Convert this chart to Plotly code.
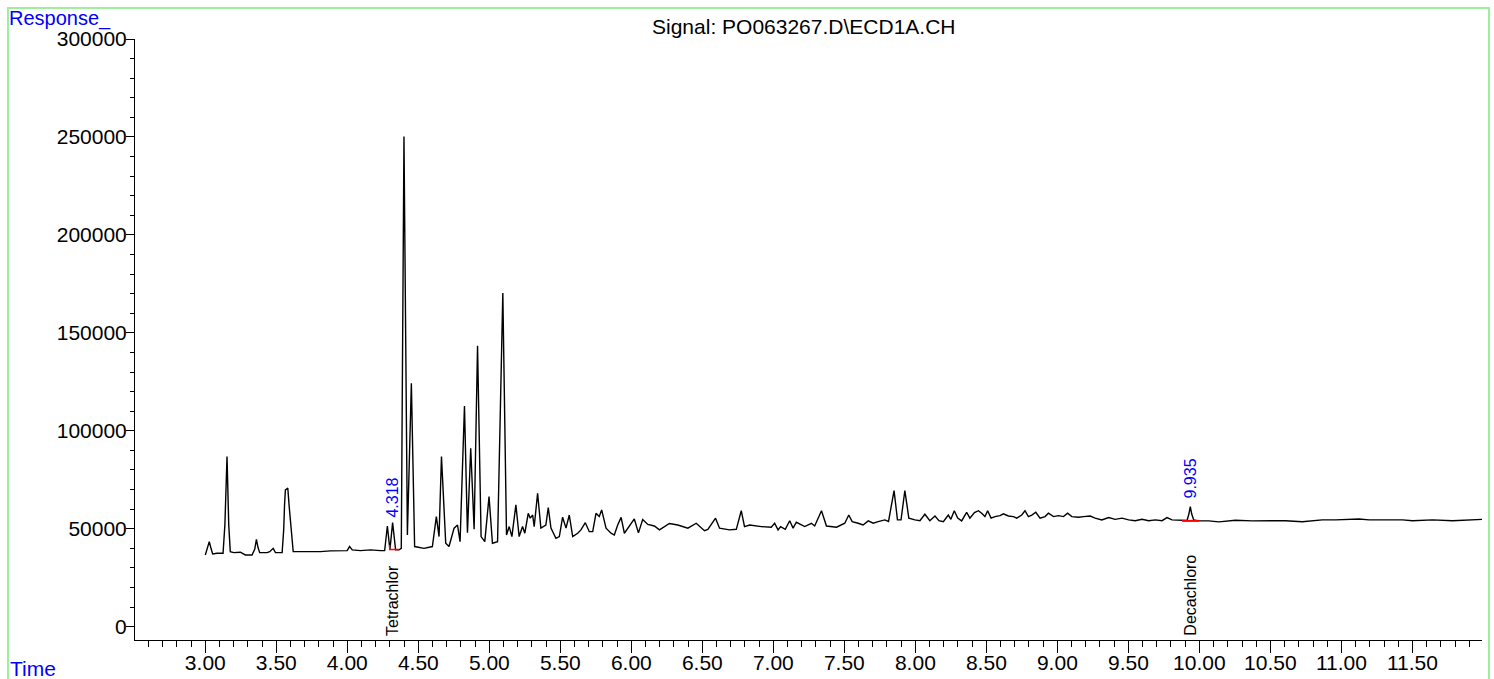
import plotly.graph_objects as go
import numpy as np

# ---------------- data ----------------
ret_time = [
    3.000, 3.014, 3.028, 3.040, 3.052, 3.083, 3.125, 3.138, 3.153, 3.165, 3.176, 3.200, 3.247, 3.282,
    3.329, 3.348, 3.360, 3.371, 3.383, 3.435, 3.454, 3.478, 3.494, 3.541, 3.552, 3.558, 3.564,
    3.572, 3.581, 3.590, 3.605, 3.619, 3.670, 3.741, 3.811, 3.882, 3.952, 3.999, 4.016,
    4.035, 4.093, 4.164, 4.234, 4.263, 4.282, 4.300, 4.319, 4.340, 4.364,
    4.380, 4.399, 4.423, 4.451, 4.474, 4.540, 4.599, 4.627, 4.646, 4.663,
    4.693, 4.716, 4.752, 4.776, 4.794, 4.825, 4.846, 4.869, 4.893, 4.917,
    4.942, 4.968, 4.998, 5.022, 5.058, 5.095, 5.121, 5.140, 5.159, 5.187,
    5.210, 5.234, 5.250, 5.274, 5.288, 5.305, 5.316, 5.340, 5.363, 5.398,
    5.415, 5.434, 5.469, 5.493, 5.516, 5.540, 5.563, 5.587, 5.622, 5.645,
    5.676, 5.704, 5.728, 5.751, 5.774, 5.791, 5.822, 5.857, 5.880, 5.904,
    5.928, 5.951, 5.986, 6.021, 6.050, 6.080, 6.116, 6.162, 6.198, 6.268,
    6.327, 6.398, 6.457, 6.515, 6.539, 6.593, 6.621, 6.691, 6.739, 6.774,
    6.797, 6.833, 6.915, 6.985, 7.009, 7.033, 7.051, 7.084, 7.115, 7.139,
    7.162, 7.221, 7.268, 7.291, 7.339, 7.374, 7.445, 7.503, 7.531, 7.555,
    7.597, 7.632, 7.668, 7.703, 7.738, 7.785, 7.811, 7.850, 7.874, 7.899,
    7.926, 7.954, 7.997, 8.032, 8.067, 8.102, 8.138, 8.166, 8.197, 8.232,
    8.250, 8.274, 8.298, 8.326, 8.361, 8.384, 8.416, 8.444, 8.467, 8.490,
    8.509, 8.533, 8.561, 8.596, 8.620, 8.655, 8.691, 8.714, 8.749, 8.772,
    8.796, 8.820, 8.848, 8.878, 8.913, 8.937, 8.973, 9.008, 9.043, 9.072,
    9.102, 9.149, 9.184, 9.231, 9.266, 9.313, 9.361, 9.407, 9.455, 9.502,
    9.548, 9.596, 9.643, 9.690, 9.737, 9.772, 9.807, 9.878, 9.913, 9.926, 9.936,
    9.946, 9.960, 9.996, 10.066, 10.137, 10.254, 10.372, 10.489, 10.607, 10.724, 10.865,
    10.959, 11.124, 11.195, 11.430, 11.501, 11.642, 11.783, 11.947, 11.990,
]
response = [
    36600, 40500, 43400, 40000, 37100, 37500, 37500, 52000, 86800, 52000, 38300, 37800, 38000, 36600,
    36600, 39500, 44600, 40500, 37800, 37800, 38300, 40000, 37800, 37800, 49400, 62000, 69800,
    70200, 70700, 62000, 47700, 38300, 38300, 38300, 38300, 38700, 38700, 38800, 40900,
    39200, 38800, 39200, 38800, 38800, 51400, 39200, 53100, 39200, 39200,
    40000, 250200, 46800, 124300, 40900, 40000, 40900, 56200, 46000, 86800,
    42600, 40900, 50300, 51900, 43400, 112700, 48000, 91100, 49700, 143400,
    46000, 43400, 66400, 42600, 43400, 170300, 46800, 51100, 46000, 62200,
    46000, 51100, 47700, 57900, 55400, 57000, 51100, 68100, 50300, 51900,
    60800, 50300, 45100, 46000, 55900, 50300, 57000, 46000, 47700, 49400,
    53100, 48500, 48500, 57900, 56200, 59600, 50300, 47700, 46800, 51900,
    55800, 47700, 51100, 55000, 47900, 54700, 52200, 51400, 49400, 52700,
    51900, 50300, 52800, 49000, 49700, 55400, 50300, 49400, 49700, 59200,
    51100, 51900, 51100, 50800, 52800, 49400, 51100, 49700, 54100, 50300,
    53300, 51100, 52800, 51400, 59200, 51400, 50800, 52800, 57000, 53600,
    52800, 51900, 54000, 52800, 53600, 54500, 53700, 69500, 54500, 54500,
    69500, 55400, 54500, 54100, 57400, 54100, 56500, 54100, 53600, 57000,
    54800, 59200, 55400, 54000, 58400, 55400, 58200, 59200, 57900, 56200,
    59200, 55400, 56200, 56700, 57600, 56500, 56200, 55400, 57000, 59200,
    56200, 57000, 58400, 55400, 56200, 57900, 56200, 56700, 56200, 57900,
    56200, 55900, 56200, 56500, 55400, 54500, 55700, 54800, 55400, 54500,
    54100, 54800, 54100, 54500, 54100, 55700, 54500, 54100, 54200, 57500, 61300,
    57500, 54500, 54000, 54000, 53500, 54300, 54000, 54100, 54100, 53600, 54500,
    54500, 55000, 54500, 54500, 54100, 54500, 54100, 54500, 54800,
]

# identified peaks
peak_times = [4.318, 9.935]
peak_labels = ["4.318", "9.935"]
peak_names = ["Tetrachlor", "Decachloro"]

# integration baselines (red)
base1_time = [4.298, 4.298, 4.364]
base1_resp = [41700, 39400, 39400]
base2_time = [9.878, 9.996]
base2_resp = [54000, 54000]

title_text = "Signal: PO063267.D\\ECD1A.CH"
y_title = "Response_"
x_title = "Time"

FONT = "Liberation Sans, Arial, sans-serif"
BLUE = "#0000ff"

fig = go.Figure()

fig.add_trace(go.Scatter(
    x=ret_time, y=response, mode="lines",
    line=dict(color="#000000", width=1.4), hoverinfo="x+y", showlegend=False,
))
fig.add_trace(go.Scatter(
    x=base1_time, y=base1_resp, mode="lines",
    line=dict(color="#ff0000", width=1.3), showlegend=False,
))
fig.add_trace(go.Scatter(
    x=base2_time, y=base2_resp, mode="lines",
    line=dict(color="#ff0000", width=2), showlegend=False,
))

apex = np.interp(peak_times, ret_time, response)
for t, lab, name, a, sh in zip(peak_times, peak_labels, peak_names, apex, [5, 7]):
    fig.add_annotation(x=t, y=max(a, np.interp(t + 0.003, ret_time, response)),
                       text=lab, textangle=-90, showarrow=False,
                       xanchor="center", yanchor="bottom", yshift=sh,
                       font=dict(family=FONT, size=16, color=BLUE))
    fig.add_annotation(x=t, y=0, yref="paper", text=name, textangle=-90,
                       showarrow=False, xanchor="center", yanchor="bottom",
                       yshift=2, font=dict(family=FONT, size=16, color="#000000"))

# header texts
fig.add_annotation(xref="paper", yref="paper", x=0.4963, y=1.020, text=title_text,
                   showarrow=False, xanchor="center", yanchor="middle",
                   font=dict(family=FONT, size=21, color="#000000"))
fig.add_annotation(xref="paper", yref="paper", x=-0.0950, y=1.034, text=y_title,
                   showarrow=False, xanchor="left", yanchor="middle",
                   font=dict(family=FONT, size=20, color=BLUE))
fig.add_annotation(xref="paper", yref="paper", x=-0.0945, y=-0.0466, text=x_title,
                   showarrow=False, xanchor="left", yanchor="middle",
                   font=dict(family=FONT, size=21, color=BLUE))

# green frame
fig.add_shape(type="rect", xref="paper", yref="paper",
              x0=-0.0943, x1=1.0052, y0=-0.2, y1=1.0516,
              line=dict(color="#9cf09c", width=2), fillcolor="rgba(0,0,0,0)",
              layer="below")

fig.update_layout(
    width=1494, height=679,
    margin=dict(l=135, r=12, t=39, b=39, autoexpand=False),
    paper_bgcolor="white", plot_bgcolor="white",
    font=dict(family=FONT, size=21, color="#000000"),
    showlegend=False,
)
fig.update_xaxes(
    range=[2.505, 11.99], showgrid=False, zeroline=False,
    showline=True, linecolor="#000000", linewidth=1,
    ticks="outside", ticklen=12, tickwidth=1, tickcolor="#000000",
    tick0=3, dtick=0.5, tickformat=".2f", ticklabelstandoff=-8,
    tickfont=dict(family=FONT, size=21, color="#000000"),
    minor=dict(ticks="outside", ticklen=6, tickwidth=1, tickcolor="#000000",
               dtick=0.1, tick0=3, showgrid=False),
)
fig.update_yaxes(
    range=[-6800, 300001], showgrid=False, zeroline=False,
    showline=True, linecolor="#000000", linewidth=1,
    ticks="outside", ticklen=8, tickwidth=1, tickcolor="#000000",
    tick0=0, dtick=50000, tickformat="d", ticklabelstandoff=-5,
    tickfont=dict(family=FONT, size=21, color="#000000"),
    minor=dict(ticks="outside", ticklen=4, tickwidth=1, tickcolor="#000000",
               dtick=10000, tick0=0, showgrid=False),
)

fig.write_html(
    "out.html",
    config={"displayModeBar": False},
    post_script="document.body.style.margin='0';document.body.style.overflow='hidden';",
)
